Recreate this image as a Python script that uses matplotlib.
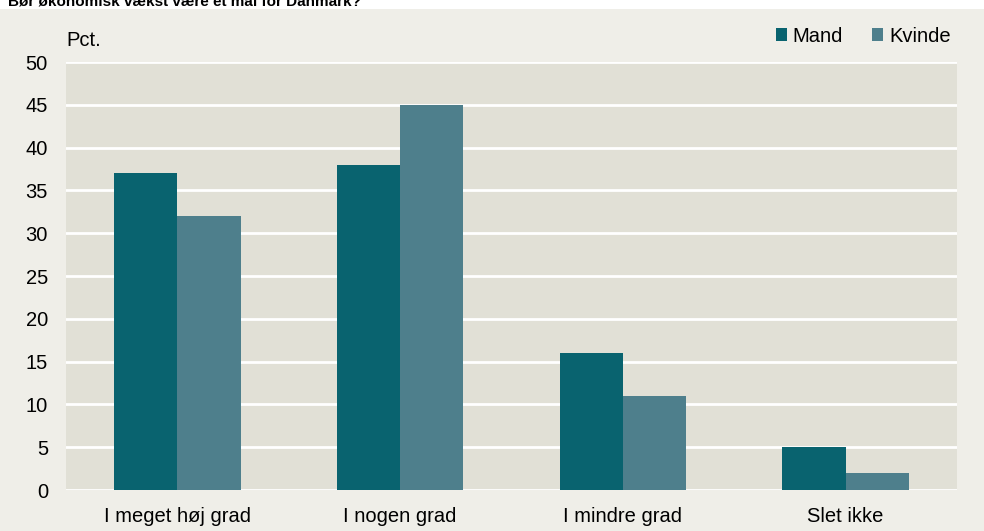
import numpy as np
import matplotlib.pyplot as plt
from matplotlib.patches import Rectangle

plt.rcParams['font.family'] = ['Liberation Sans', 'DejaVu Sans']

categories = ['I meget høj grad', 'I nogen grad', 'I mindre grad', 'Slet ikke']
mand = [37, 38, 16, 5]
kvinde = [32, 45, 11, 2]
yticks = [0, 5, 10, 15, 20, 25, 30, 35, 40, 45, 50]
title = 'Bør økonomisk vækst være et mål for Danmark?'

c_mand = '#09636F'
c_kvinde = '#4E7F8C'
bg_fig = '#EFEEE8'
bg_ax = '#E1E0D6'
fs = 14.5

fig = plt.figure(figsize=(9.84, 5.31), dpi=100, facecolor=bg_fig)
# white strip at the very top, where the cut-off title sits
fig.patches.append(Rectangle((0, 1 - 9 / 531), 1, 9 / 531, transform=fig.transFigure,
                             facecolor='white', edgecolor='none', zorder=0))
fig.text(8 / 984, 1 - 5.5 / 531, title, fontsize=11, fontweight='bold',
         va='baseline', ha='left', zorder=5)

ax = fig.add_axes([66 / 984, 1 - 490 / 531, (957 - 66) / 984, (490 - 62) / 531])
ax.set_facecolor(bg_ax)

x = np.arange(len(categories))
w = 0.284
ax.bar(x - w / 2, mand, width=w, color=c_mand, label='Mand', zorder=3)
ax.bar(x + w / 2, kvinde, width=w, color=c_kvinde, label='Kvinde', zorder=3)

ax.set_xlim(-0.5, len(categories) - 0.5)
ax.set_ylim(0, 50)
ax.set_yticks(yticks)
ax.set_xticks(x)
ax.set_xticklabels(categories)
ax.yaxis.grid(True, color='white', linewidth=2)
ax.set_axisbelow(True)
ax.tick_params(axis='both', length=0, labelsize=fs)
ax.tick_params(axis='y', pad=13)
ax.tick_params(axis='x', pad=12)
for s in ax.spines.values():
    s.set_visible(False)

ax.text(0, 1.05, 'Pct.', transform=ax.transAxes, fontsize=fs, ha='left', va='center')

leg = ax.legend(loc='lower right', bbox_to_anchor=(1.007, 1.01), ncol=2, frameon=False,
                fontsize=fs, handlelength=0.55, handleheight=0.55, handletextpad=0.3,
                columnspacing=1.45, borderaxespad=0.6, borderpad=0.0)

fig.savefig('out.png', dpi=100, facecolor=fig.get_facecolor())
